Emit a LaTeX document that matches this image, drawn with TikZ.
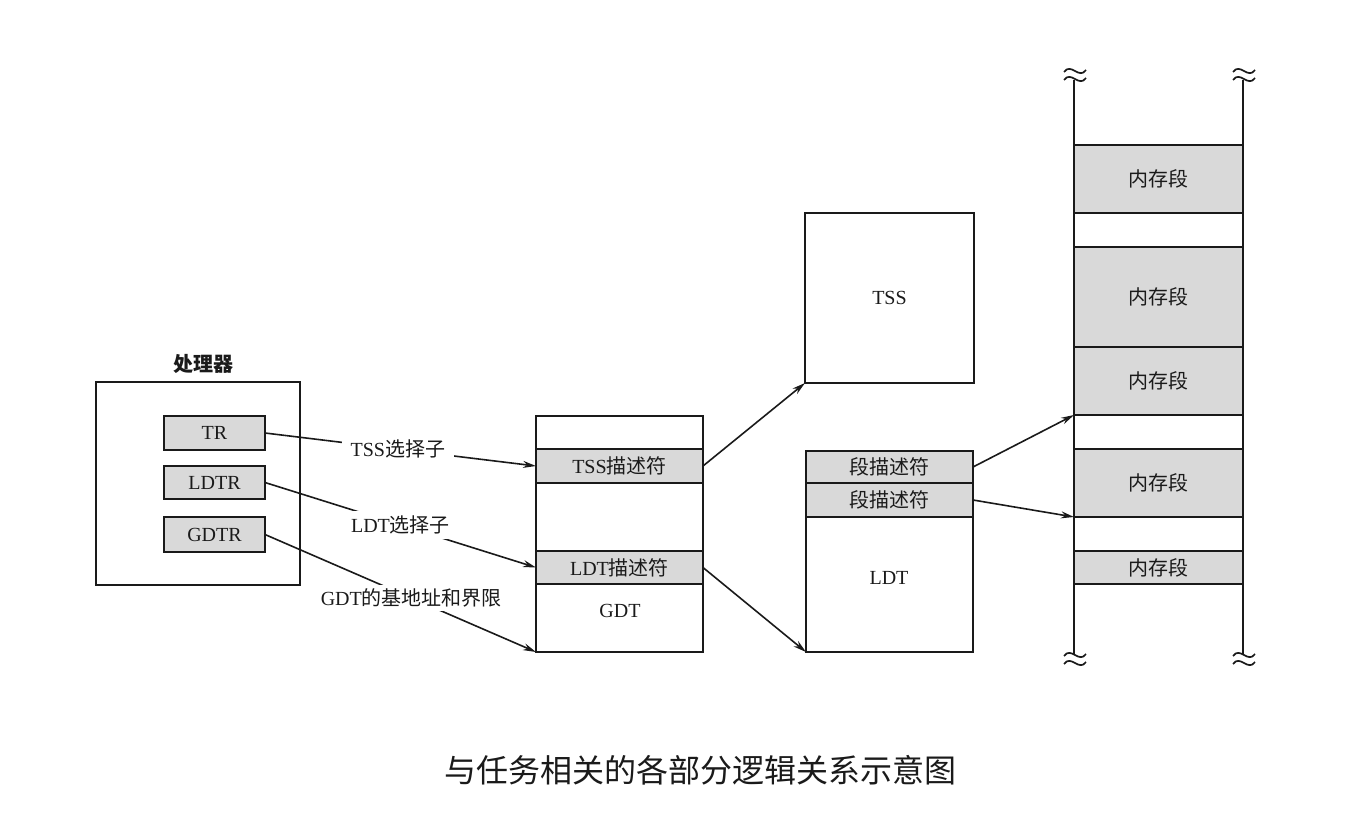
\documentclass[tikz,border=0pt]{standalone}
\usepackage{fontspec}
\setmainfont{Liberation Serif}
\newfontfamily\cjk{Noto Sans CJK SC}
\usetikzlibrary{arrows.meta}
\definecolor{segfill}{HTML}{D9D9D9}
\definecolor{ink}{HTML}{1A1A1A}
\begin{document}
\begin{tikzpicture}[x=1pt,y=-1pt,
  every node/.style={font=\fontsize{20}{23}\selectfont, text=ink},
  frame/.style={draw=ink, line width=2.6pt, inner sep=0pt, outer sep=0pt, anchor=north west},
  row/.style={draw=ink, fill=segfill, line width=1.7pt, inner sep=0pt, outer sep=0pt, anchor=north west},
  reg/.style={draw=ink, fill=segfill, line width=2.8pt, inner sep=0pt, outer sep=0pt, anchor=north west, minimum width=101pt},
  conn/.style={draw=ink, line width=1.6pt, -{Stealth[length=13pt,width=7pt]}},
  lbl/.style={fill=white, inner xsep=9pt, inner ysep=5pt},
  brk/.pic={\draw[ink, line width=1.7pt] (-11,1) .. controls (-4,-9) and (4,9) .. (11,-1);
            \draw[ink, line width=1.7pt] (-11,9) .. controls (-4,-1) and (4,17) .. (11,7);}
  ]
\useasboundingbox (0,0) rectangle (1349,830);

% processor
\node[frame, line width=1.8pt, minimum width=204pt, minimum height=203pt] (cpu) at (96,382) {};
\node (cputitle) at (203,364) {\cjk\bfseries 处理器};
\node[reg, minimum height=34pt] (tr) at (164,416) {};
\node at (tr.center) {TR};
\node[reg, minimum height=33pt] (ldtr) at (164,466) {};
\node at (ldtr.center) {LDTR};
\node[reg, minimum height=35pt] (gdtr) at (164,517) {};
\node at (gdtr.center) {GDTR};

% GDT
\node[row, minimum width=167pt, minimum height=34pt] (tssd) at (536,449) {};
\node at (tssd.center) {TSS{\cjk 描述符}};
\node[row, minimum width=167pt, minimum height=33pt] (ldtd) at (536,551) {};
\node at (ldtd.center) {LDT{\cjk 描述符}};
\node[frame, minimum width=167pt, minimum height=236pt] (gdt) at (536,416) {};
\node (gdtlbl) at (620,611) {GDT};

% TSS
\node[frame, minimum width=169pt, minimum height=170pt] (tss) at (805,213) {};
\node at (tss.center) {TSS};

% LDT
\node[row, minimum width=167pt, minimum height=32pt] (seg1) at (806,451) {};
\node at (seg1.center) {\cjk 段描述符};
\node[row, minimum width=167pt, minimum height=34pt] (seg2) at (806,483) {};
\node at (seg2.center) {\cjk 段描述符};
\node[frame, minimum width=167pt, minimum height=201pt] (ldt) at (806,451) {};
\node (ldtlbl) at (889,578) {LDT};

% memory
\coordinate (mlt) at (1074,80);
\coordinate (mlb) at (1074,655);
\coordinate (mrt) at (1243,80);
\coordinate (mrb) at (1243,655);
\draw[ink, line width=1.8pt] (mlt) -- (mlb);
\draw[ink, line width=1.8pt] (mrt) -- (mrb);
\pic at (1075,71) {brk};
\pic at (1244,71) {brk};
\pic at (1075,655) {brk};
\pic at (1244,655) {brk};
\node[row, minimum width=169pt, minimum height=68pt] (m1) at (1074,145) {};
\node at (m1.center) {\cjk 内存段};
\node[row, minimum width=169pt, minimum height=100pt] (m2) at (1074,247) {};
\node at (m2.center) {\cjk 内存段};
\node[row, minimum width=169pt, minimum height=68pt] (m3) at (1074,347) {};
\node at (m3.center) {\cjk 内存段};
\node[row, minimum width=169pt, minimum height=68pt] (m4) at (1074,449) {};
\node at (m4.center) {\cjk 内存段};
\node[row, minimum width=169pt, minimum height=33pt] (m5) at (1074,551) {};
\node at (m5.center) {\cjk 内存段};

% connectors
\draw[conn] (tr.east) -- node[lbl, pos=0.49] {TSS{\cjk 选择子}} (tssd.west);
\draw[conn] (ldtr.east) -- node[lbl, pos=0.5] {LDT{\cjk 选择子}} (ldtd.west);
\draw[conn] (gdtr.east) -- node[lbl, pos=0.54, inner ysep=4pt] {GDT{\cjk 的基地址和界限}} (gdt.south west);
\draw[conn] (tssd.east) -- (tss.south west);
\draw[conn] (ldtd.east) -- (ldt.south west);
\draw[conn] (seg1.east) -- (m3.south west);
\draw[conn] (seg2.east) -- (m4.south west);

% caption
\node[font=\fontsize{32}{37}\selectfont] (caption) at (700,770) {\cjk 与任务相关的各部分逻辑关系示意图};
\end{tikzpicture}
\end{document}
